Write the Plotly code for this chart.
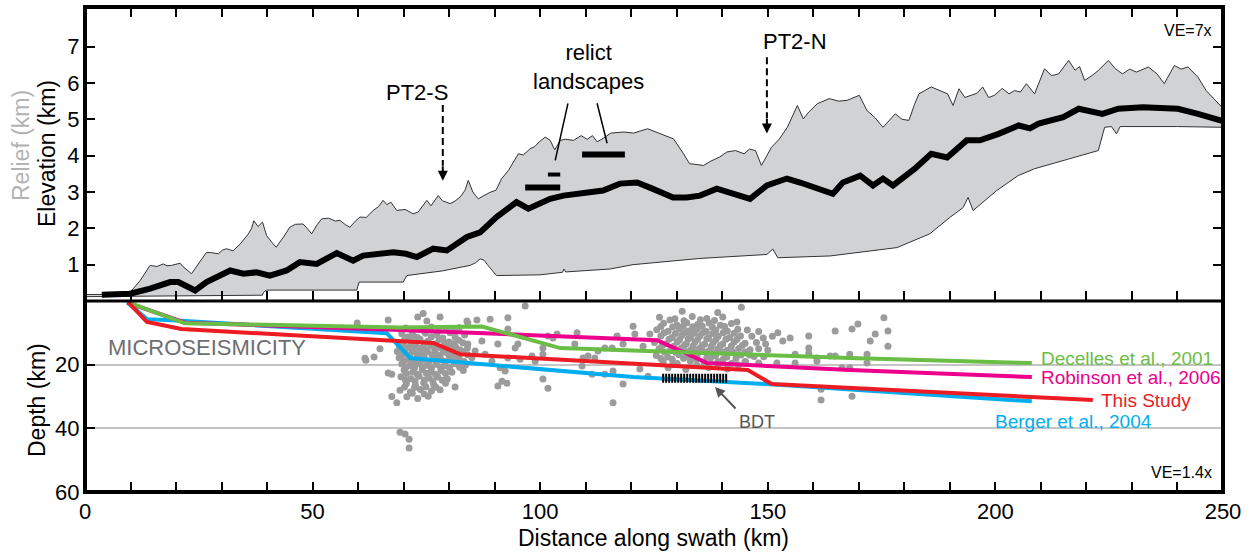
import plotly.graph_objects as go

FONT = "Liberation Sans, Arial, sans-serif"

# ---------------- DATA ----------------
# Top panel: swath profile (distance km, elevation km) - maximum elevation
max_km = [0, 9.5, 9.9, 12.1, 14.3, 15.8, 17.2, 18.0, 19.0, 20.9, 21.5, 22.4, 23.4, 24.9, 26.0, 26.7, 27.8, 29.3,
          30.2, 31.1, 32.5, 34.1, 35.9, 36.6, 37.1, 38.0, 39.0, 39.9, 41.0, 42.0, 43.6, 45.0, 46.2, 47.9, 48.8,
          49.8, 51.0, 52.0, 53.5, 55.0, 56.0, 57.2, 58.2, 59.4, 60.4, 61.8, 63.3, 64.5, 65.5, 66.3, 67.2, 68.5,
          70.3, 72.1, 73.2, 75.1, 76.0, 77.6, 78.5, 80.2, 81.3, 82.4, 83.5, 84.2, 85.2, 86.4, 87.6, 89.0, 90.3,
          91.5, 93.0, 94.0, 95.2, 96.3, 97.8, 98.8, 99.8, 101.1, 102.2, 103.2, 104.4, 105.5, 107.3, 109.0,
          110.3, 111.5, 112.5, 113.9, 115.5, 118.4, 120.5, 123.6, 126.3, 129.3, 131.5, 132.8, 135.9, 137.5,
          139.4, 141.0, 142.9, 144.8, 146.0, 147.3, 148.6, 150.8, 152.5, 154.3, 156.5, 157.8, 159.0, 160.9,
          163.5, 165.5, 167.4, 170.1, 171.8, 173.5, 175.3, 176.5, 178.0, 179.5, 181.0, 182.2, 183.2, 185.9,
          187.8, 189.5, 190.7, 192.0, 193.3, 194.6, 196.0, 197.2, 198.5, 199.8, 201.5, 203.0, 204.2, 205.5,
          206.8, 208.6, 210.8, 212.3, 213.9, 216.1, 217.5, 218.5, 219.6, 221.2, 222.6, 224.8, 226.3, 227.9,
          229.5, 231.0, 233.6, 235.5, 237.1, 239.3, 240.8, 242.3, 244.5, 246.3, 248.9, 250]
max_elev = [0.18, 0.18, 0.24, 0.56, 0.98, 0.95, 1.02, 0.97, 0.98, 1.04, 0.95, 0.85, 0.75, 1.02, 1.20, 1.34, 1.33, 1.30,
            1.40, 1.44, 1.38, 1.57, 1.85, 2.0, 2.21, 2.05, 2.17, 1.80, 1.62, 1.48, 1.76, 2.03, 2.11, 2.12, 2.00,
            1.85, 2.10, 2.26, 2.28, 2.20, 2.22, 2.10, 2.03, 2.20, 2.31, 2.30, 2.49, 2.60, 2.77, 2.65, 2.72, 2.49,
            2.52, 2.40, 2.45, 2.77, 2.62, 2.90, 2.76, 2.68, 2.75, 2.86, 3.05, 3.32, 3.0, 2.81, 2.90, 2.99, 3.05,
            3.36, 3.59, 3.80, 4.05, 4.02, 4.19, 4.25, 4.38, 4.51, 4.42, 4.16, 4.42, 4.45, 4.42, 4.55,
            4.45, 4.55, 4.38, 4.48, 4.62, 4.65, 4.62, 4.74, 4.60, 4.46, 4.05, 3.78, 3.73, 3.85,
            3.96, 4.10, 4.14, 4.05, 4.18, 4.14, 3.73, 4.23, 4.45, 4.78, 5.38, 5.01, 5.20, 5.43,
            5.57, 5.50, 5.52, 5.66, 5.24, 5.05, 4.78, 4.95, 5.15, 5.00, 4.97, 5.40, 5.70, 5.89,
            5.80, 5.70, 5.38, 5.84, 5.60, 5.66, 5.72, 5.89, 5.60, 5.66, 5.85, 5.70, 5.79, 5.75,
            5.98, 5.70, 6.39, 6.20, 6.25, 6.62, 6.35, 6.45, 6.07, 6.20, 6.34, 6.62, 6.40, 6.25,
            6.38, 6.30, 6.44, 6.25, 5.98, 6.48, 6.38, 6.44, 6.16, 5.79, 5.43, 5.30]

# minimum elevation
min_km = [0, 10, 39.0, 39.2, 39.9, 59.7, 60.2, 69.9, 70.7, 78.6, 84.6, 85.8, 86.8, 87.7, 88.4, 90.4, 100, 104.9,
          105.2, 105.6, 115.3, 120.4, 135, 149.8, 151.1, 152.2, 163.7, 178.4, 185.6, 190, 192.9, 194, 195.1,
          200.3, 205, 208.6, 214.9, 218.3, 222.6, 224, 225.5, 226.6, 227.4, 240, 250]
min_elev = [0.12, 0.13, 0.16, 0.24, 0.30, 0.30, 0.52, 0.52, 0.70, 0.83, 0.98, 1.05, 1.16, 1.12, 1.0, 0.70, 0.72, 0.79,
            0.88, 0.80, 0.88, 1.00, 1.17, 1.28, 1.43, 1.19, 1.24, 1.47, 1.85, 2.3, 2.57, 2.85, 2.49,
            3.04, 3.45, 3.64, 3.87, 4.0, 4.14, 4.78, 4.80, 4.60, 4.80, 4.80, 4.78]

# mean elevation
mean_km = [3.7, 9.9, 14.3, 18.7, 20.5, 22.3, 24.2, 26.7, 29.0, 31.9, 34.8, 37.7, 40.6, 44.3, 47.2, 50.9, 55.3,
           58.9, 61.1, 64.5, 67.7, 70.5, 72.9, 76.5, 79.5, 83.9, 86.8, 90.4, 94.8, 97.4, 102.2, 105.1, 109.4,
           113.8, 117.5, 121.3, 124.1, 129.2, 132.2, 135.1, 138.8, 142.4, 146.1, 149.8, 154.2, 157.1, 160.8,
           164.3, 166.5, 170.3, 173.1, 175.3, 177.5, 182.3, 185.9, 189.4, 193.7, 196.6, 200.7, 205.1, 207.6,
           209.5, 214.9, 218.3, 223.5, 227.0, 232.4, 240.1, 244.5, 248.9, 250]
mean_elev = [0.17, 0.2, 0.34, 0.52, 0.52, 0.42, 0.29, 0.52, 0.68, 0.84, 0.75, 0.79, 0.70, 0.84, 1.07, 1.02, 1.32,
             1.11, 1.25, 1.30, 1.34, 1.30, 1.21, 1.44, 1.39, 1.76, 1.89, 2.31, 2.72, 2.54, 2.81, 2.9, 2.98,
             3.04, 3.23, 3.26, 3.12, 2.85, 2.85, 2.9, 3.09, 2.95, 2.81, 3.18, 3.37, 3.26, 3.12,
             2.95, 3.26, 3.45, 3.18, 3.37, 3.18, 3.64, 4.05, 3.95, 4.42, 4.42, 4.6, 4.83, 4.75,
             4.88, 5.06, 5.29, 5.15, 5.29, 5.33, 5.29, 5.15, 4.97, 4.95]

# relict landscape surfaces: start km, end km, elevation km
relict_start = [96.7, 101.7, 109.2]
relict_end = [104.4, 104.4, 118.6]
relict_elev = [3.12, 3.48, 4.03]

# Bottom panel: decollement geometries (distance km, depth km)
decelles_km = [9.6, 22, 69.2, 87.2, 104.4, 168, 208]
decelles_depth = [0.5, 7.0, 8.3, 8.0, 14.8, 17.9, 19.5]
robinson_km = [9.3, 22, 69.2, 125.7, 136.7, 168, 208]
robinson_depth = [0.5, 6.8, 9.1, 12.3, 19.5, 21.7, 23.9]
thisstudy_km = [9.6, 13.6, 21.2, 76.5, 82.4, 145.6, 150.9, 221.4]
thisstudy_depth = [0.5, 6.6, 8.8, 13.2, 16.7, 21.7, 26.1, 31.1]
berger_km = [9.3, 13.6, 22, 66.3, 71.4, 120.4, 149.8, 208]
berger_depth = [0.5, 5.7, 6.3, 10.1, 17.9, 23.9, 26.1, 31.5]

# brittle-ductile transition
bdt_km = [126.8, 141.3]
bdt_depth = [24.3, 24.3]

# microseismicity (distance km, depth km)
quakes = [
    (59.8, 6.9), (66.6, 6.0), (73.1, 5.0), (74.3, 3.9), (75.1, 6.3), (78.0, 5.0), (83.9, 6.3), (64.8, 15.0),
    (61.5, 18.0), (61.7, 18.6), (63.5, 17.6), (66.6, 22.6), (67.4, 23.0), (67.4, 30.0), (68.5, 32.0),
    (69.2, 41.2), (70.3, 41.8), (71.2, 43.4), (71.2, 46.2), (81.3, 27.0),
    (96.7, 1.6), (92.9, 5.3), (89.0, 5.7), (86.1, 6.0), (84.1, 6.9), (92.9, 8.8), (84.1, 13.5), (85.7, 15.7),
    (87.2, 12.6), (87.9, 16.7), (89.4, 18.9), (90.7, 13.5), (91.2, 21.0), (92.3, 22.0), (94.5, 14.8),
    (95.1, 13.5), (92.9, 17.9), (95.6, 18.3), (98.2, 17.3), (100.6, 14.8), (100.6, 16.7), (98.9, 18.9),
    (91.6, 25.2), (92.7, 25.8), (90.7, 26.7), (100.6, 24.5), (101.7, 27.4),
    (101.7, 11.0), (102.8, 11.6), (103.7, 10.4), (108.1, 10.0), (107.6, 13.5), (109.4, 17.9), (110.5, 17.3),
    (109.2, 20.4), (112.0, 17.9), (111.4, 23.0), (112.7, 15.7),
    (116.9, 11.0), (114.2, 14.8), (115.8, 14.8), (118.2, 13.5), (120.4, 7.9), (120.8, 10.4), (124.1, 10.4),
    (122.6, 14.2), (116.0, 22.0), (114.2, 23.0), (118.2, 26.1), (121.9, 21.4), (123.7, 23.6), (116.0, 32.0),
    (144.2, 2.0), (143.2, 6.6),
    (152.2, 10.0), (153.3, 12.6), (154.9, 11.6), (152.0, 19.5), (156.0, 16.7), (156.0, 19.5), (159.0, 11.0),
    (159.0, 14.8), (159.0, 16.4), (160.8, 17.9), (160.8, 18.9), (164.8, 9.4), (164.8, 17.3), (163.7, 17.3),
    (168.0, 16.7), (168.5, 8.8), (169.8, 7.2), (171.8, 16.7), (171.8, 19.5), (172.5, 12.6), (173.6, 10.4),
    (175.5, 5.3), (176.4, 9.4), (176.4, 14.2), (166.3, 21.0), (168.0, 21.0), (161.7, 27.7), (168.5, 29.9),
    (161.7, 31.1),
    # dense cluster near 70-85 km
    (70.5, 8.5), (73.2, 8.9), (76.1, 8.2), (79.4, 8.8), (82.2, 8.4),
    (69.6, 10.3), (72.1, 10.8), (74.8, 10.1), (77.3, 10.6), (80.2, 10.0), (83.4, 10.7),
    (70.2, 12.2), (71.7, 12.8), (73.6, 12.0), (75.4, 12.6), (77.8, 12.1), (80.0, 12.9), (82.1, 12.3),
    (69.1, 14.1), (71.0, 14.6), (72.6, 13.9), (74.2, 14.5), (76.0, 14.0), (78.1, 14.7), (79.6, 14.2),
    (81.4, 14.4), (84.0, 14.8),
    (68.6, 15.9), (70.4, 16.4), (72.0, 15.7), (73.7, 16.3), (75.2, 15.8), (77.0, 16.5), (79.1, 16.0),
    (81.0, 16.6), (83.0, 15.9),
    (69.0, 17.8), (71.1, 18.3), (73.0, 17.6), (74.6, 18.2), (76.6, 17.9), (78.3, 18.5), (80.1, 17.7),
    (82.2, 18.1), (85.0, 17.8),
    (69.6, 19.8), (71.4, 20.3), (73.2, 19.6), (75.1, 20.2), (77.1, 19.9), (79.0, 20.4), (81.2, 19.7), (83.6, 20.1),
    (70.1, 21.7), (72.0, 22.3), (74.1, 21.6), (76.0, 22.2), (78.2, 21.9), (80.6, 22.4), (83.1, 21.8),
    (69.4, 23.8), (71.6, 24.4), (73.4, 23.6), (75.6, 24.2), (77.5, 23.9), (79.6, 24.5),
    (70.6, 25.9), (72.6, 26.5), (74.4, 25.7), (76.6, 26.2), (79.2, 25.8),
    (69.2, 28.0), (71.5, 28.6), (73.7, 27.8), (76.1, 28.3), (78.0, 27.9),
    (70.7, 30.1), (73.1, 30.6), (75.4, 29.9),
    (71.8, 9.4), (74.6, 9.6), (77.8, 9.3), (80.9, 9.5),
    (70.9, 11.3), (73.0, 11.5), (76.1, 11.2), (78.6, 11.6), (81.3, 11.3),
    (69.9, 13.2), (72.2, 13.4), (74.9, 13.1), (76.9, 13.5), (79.0, 13.2), (81.0, 13.4), (83.0, 13.1),
    (70.0, 15.0), (71.8, 15.2), (73.4, 14.9), (75.0, 15.3), (76.8, 15.0), (78.6, 15.2), (80.4, 15.0), (82.4, 15.3),
    (69.6, 16.9), (71.3, 17.1), (72.9, 16.8), (74.5, 17.2), (76.2, 16.9), (78.0, 17.1), (79.9, 16.8),
    (81.8, 17.1), (84.1, 16.9),
    (70.1, 18.8), (72.2, 19.0), (73.9, 18.7), (75.6, 19.1), (77.4, 18.8), (79.2, 19.0), (81.1, 18.7), (83.3, 19.0),
    (70.5, 20.8), (72.4, 21.0), (74.1, 20.7), (76.1, 21.1), (78.1, 20.8), (80.1, 21.0), (82.3, 20.8),
    (70.6, 22.8), (73.0, 23.0), (75.0, 22.7), (77.0, 23.0), (79.2, 22.8),
    (70.4, 24.9), (72.5, 25.1), (74.6, 24.8), (76.4, 25.1), (78.5, 24.9),
    (70.2, 27.0), (72.4, 27.2), (74.9, 26.9), (77.1, 27.1),
    (71.9, 29.0), (74.5, 29.2),
    # dense cluster near 125-147 km
    (131.2, 3.2), (139.0, 3.6),
    (126.2, 5.1), (129.6, 5.6), (133.4, 4.9), (136.6, 5.5), (140.1, 5.0),
    (127.1, 7.0), (130.0, 7.5), (132.2, 6.8), (134.6, 7.4), (137.1, 6.9), (139.6, 7.6), (142.0, 7.1),
    (125.6, 9.0), (128.1, 9.5), (130.6, 8.8), (132.6, 9.4), (134.4, 8.9), (136.5, 9.6), (138.6, 9.1),
    (141.1, 9.4), (143.4, 8.9),
    (126.5, 11.0), (129.0, 11.5), (131.1, 10.8), (133.0, 11.4), (135.1, 10.9), (137.0, 11.6), (139.1, 11.1),
    (141.6, 11.5), (144.0, 11.0),
    (125.1, 13.0), (127.6, 13.5), (130.1, 12.8), (132.1, 13.4), (134.0, 12.9), (136.1, 13.6), (138.0, 13.1),
    (140.1, 13.5), (142.6, 12.9), (145.0, 13.3),
    (126.1, 15.0), (128.6, 15.5), (131.0, 14.8), (133.1, 15.4), (135.0, 14.9), (137.1, 15.6), (139.0, 15.1),
    (141.1, 15.5), (143.6, 14.9), (146.1, 15.3),
    (125.5, 17.1), (128.0, 17.6), (130.5, 16.9), (132.6, 17.5), (134.5, 17.0), (136.6, 17.7), (138.5, 17.2),
    (141.0, 17.6), (144.1, 17.0), (147.0, 17.4),
    (127.0, 19.1), (130.1, 19.6), (133.0, 18.9), (136.0, 19.5), (139.1, 19.0), (142.0, 19.6), (145.1, 19.2),
    (128.1, 21.0), (132.0, 21.5), (137.0, 20.9), (141.1, 21.4),
    (128.5, 6.0), (131.6, 6.2), (135.2, 5.9), (138.3, 6.1),
    (126.5, 8.0), (129.1, 8.2), (131.4, 7.9), (133.5, 8.1), (135.6, 7.9), (137.8, 8.2), (140.5, 8.0),
    (127.2, 10.0), (129.7, 10.2), (131.9, 9.9), (133.8, 10.1), (135.8, 9.9), (137.9, 10.2), (140.2, 10.0),
    (142.6, 10.1),
    (128.3, 12.0), (130.6, 12.2), (132.5, 11.9), (134.6, 12.1), (136.6, 11.9), (138.6, 12.2), (140.8, 12.0),
    (143.2, 12.1),
    (126.8, 14.0), (129.4, 14.2), (131.7, 13.9), (133.6, 14.1), (135.6, 13.9), (137.6, 14.2), (139.6, 14.0),
    (142.0, 14.1), (144.4, 14.0),
    (127.3, 16.0), (129.8, 16.2), (131.9, 15.9), (133.9, 16.1), (135.8, 15.9), (137.8, 16.2), (140.1, 16.0),
    (142.4, 16.1), (145.0, 16.0),
    (126.5, 18.1), (129.0, 18.3), (131.5, 18.0), (134.3, 18.2), (137.4, 18.0), (140.2, 18.3), (143.0, 18.1),
    (129.1, 20.0), (134.4, 20.2), (139.0, 19.9), (143.5, 20.1),
    (145.5, 9.1), (148.0, 9.6), (146.5, 11.1), (149.0, 11.6), (151.0, 11.1), (147.5, 13.0), (149.5, 13.5),
    (148.0, 15.0), (150.0, 15.5), (146.0, 17.0), (149.1, 17.5), (145.0, 19.0), (148.0, 19.5),
]
quake_km = [q[0] for q in quakes]
quake_depth = [q[1] for q in quakes]

x_ticks = list(range(0, 251, 10))
x_ticklabels = [str(v) if v % 50 == 0 else "" for v in x_ticks]
elev_ticks = [1, 2, 3, 4, 5, 6, 7]
depth_ticks = [20, 40, 60]

# ---------------- LAYOUT GEOMETRY ----------------
W, H = 1250, 555
ML, MR, MT, MB = 85, 27, 7, 63
PW = W - ML - MR
PH = H - MT - MB
SPLIT = (H - MB - 301) / PH


def pxx(px):
    return (px - ML) / PW


def pxy(py):
    return (H - MB - py) / PH


fig = go.Figure()

# ---- top panel ----
fig.add_trace(go.Scatter(x=max_km + min_km[::-1], y=max_elev + min_elev[::-1], fill="toself",
                         fillcolor="#d1d2d4", line=dict(width=0), mode="lines",
                         xaxis="x2", yaxis="y2", hoverinfo="skip", showlegend=False))
fig.add_trace(go.Scatter(x=max_km, y=max_elev, mode="lines", line=dict(color="#333333", width=1),
                         xaxis="x2", yaxis="y2", showlegend=False))
fig.add_trace(go.Scatter(x=min_km, y=min_elev, mode="lines", line=dict(color="#333333", width=1),
                         xaxis="x2", yaxis="y2", showlegend=False))
fig.add_trace(go.Scatter(x=mean_km, y=mean_elev, mode="lines", line=dict(color="black", width=6),
                         xaxis="x2", yaxis="y2", showlegend=False))
for s, e, v in zip(relict_start, relict_end, relict_elev):
    fig.add_trace(go.Scatter(x=[s, e], y=[v, v], mode="lines",
                             line=dict(color="black", width=6 if e - s > 4 else 4),
                             xaxis="x2", yaxis="y2", showlegend=False))

# ---- bottom panel ----
fig.add_trace(go.Scatter(x=quake_km, y=quake_depth, mode="markers",
                         marker=dict(color="#9b9b9b", size=7), xaxis="x", yaxis="y", showlegend=False))
fig.add_trace(go.Scatter(x=berger_km, y=berger_depth, mode="lines", line=dict(color="#00aeef", width=4),
                         showlegend=False))
fig.add_trace(go.Scatter(x=robinson_km, y=robinson_depth, mode="lines", line=dict(color="#ec008c", width=4),
                         showlegend=False))
fig.add_trace(go.Scatter(x=decelles_km, y=decelles_depth, mode="lines", line=dict(color="#6abd45", width=4),
                         showlegend=False))
fig.add_trace(go.Scatter(x=thisstudy_km, y=thisstudy_depth, mode="lines", line=dict(color="#ed1c24", width=4),
                         showlegend=False))
fig.add_trace(go.Scatter(x=bdt_km, y=bdt_depth, mode="lines",
                         line=dict(color="black", width=9, dash="2px,1px"), showlegend=False))

tickfont = dict(family=FONT, size=22, color="black")
common = dict(ticks="inside", ticklen=10, tickwidth=1.5, tickcolor="black", showline=True,
              linecolor="black", linewidth=1, zeroline=False, automargin=False)
fig.update_layout(
    width=W, height=H, margin=dict(l=ML, r=MR, t=MT, b=MB, autoexpand=False),
    paper_bgcolor="white", plot_bgcolor="white",
    font=dict(family=FONT, color="black"),
    xaxis=dict(domain=[0, 1], range=[0, 250], anchor="y", tickvals=x_ticks, ticktext=x_ticklabels,
               mirror=True, showgrid=False, tickfont=tickfont, **common),
    xaxis2=dict(domain=[0, 1], range=[0, 250], anchor="y2", matches="x", tickvals=x_ticks,
                showticklabels=False, mirror="allticks", showgrid=False, **common),
    yaxis=dict(domain=[0, SPLIT], range=[60, 0], anchor="x", tickvals=depth_ticks, mirror=True,
               showgrid=True, gridcolor="#c4c4c4", gridwidth=1.5, tickfont=tickfont, **common),
    yaxis2=dict(domain=[SPLIT, 1], range=[0, 8.09], anchor="x2", tickvals=elev_ticks, mirror="allticks",
                showgrid=False, tickfont=tickfont, **common),
)

shapes = [
    dict(type="rect", xref="paper", yref="paper", x0=0, x1=1, y0=0, y1=1,
         line=dict(color="black", width=4), layer="above"),
    dict(type="line", xref="paper", yref="paper", x0=0, x1=1, y0=SPLIT, y1=SPLIT,
         line=dict(color="black", width=3), layer="above"),
    # dashed arrow shafts
    dict(type="line", xref="x2", yref="y2", x0=78.6, x1=78.6, y0=5.39, y1=3.72,
         line=dict(color="black", width=2, dash="7px,4px")),
    dict(type="line", xref="x2", yref="y2", x0=149.8, x1=149.8, y0=6.71, y1=5.02,
         line=dict(color="black", width=2, dash="7px,4px")),
    # relict landscapes leader lines
    dict(type="line", xref="x2", yref="y2", x0=106.1, x1=103.3, y0=5.44, y1=3.87,
         line=dict(color="black", width=1.5)),
    dict(type="line", xref="x2", yref="y2", x0=112.5, x1=114.7, y0=5.44, y1=4.34,
         line=dict(color="black", width=1.5)),
]
fig.update_layout(shapes=shapes)

ann = []


def text(x, y, t, size=22, color="black", xanchor="center", xref="paper", yref="paper", angle=0):
    ann.append(dict(x=x, y=y, xref=xref, yref=yref, text=t, showarrow=False, xanchor=xanchor,
                    yanchor="middle", textangle=angle, font=dict(family=FONT, size=size, color=color)))


# axis titles
text(pxx(21), pxy(146), "Relief (km)", size=23, color="#b3b3b3", angle=-90)
text(pxx(47), pxy(154), "Elevation (km)", size=23, angle=-90)
text(pxx(37), pxy(400), "Depth (km)", size=23, angle=-90)
text(pxx(653), pxy(538), "Distance along swath (km)", size=23)

# top panel annotations
text(72.9, 5.75, "PT2-S", xref="x2", yref="y2")
text(156.0, 7.13, "PT2-N", xref="x2", yref="y2")
text(110.5, 6.44, "relict<br>landscapes", xref="x2", yref="y2")
text(pxx(1214), pxy(30), "VE=7x", size=16, xanchor="right")
for xx, yy in [(78.6, 3.31), (149.8, 4.61)]:
    ann.append(dict(x=xx, y=yy, xref="x2", yref="y2", ax=0, ay=-16, text="", showarrow=True,
                    arrowhead=2, arrowsize=1, arrowwidth=2, arrowcolor="black"))

# bottom panel annotations
text(4.6, 14.5, "MICROSEISMICITY", size=22, color="#6d6e70", xanchor="left", xref="x", yref="y")
text(209.6, 18.2, "Decelles et al., 2001", size=19, color="#6abd45", xanchor="left", xref="x", yref="y")
text(209.6, 23.9, "Robinson et al., 2006", size=19, color="#ec008c", xanchor="left", xref="x", yref="y")
text(222.8, 31.1, "This Study", size=19, color="#ed1c24", xanchor="left", xref="x", yref="y")
text(199.5, 38.0, "Berger et al., 2004", size=19, color="#00aeef", xanchor="left", xref="x", yref="y")
text(147.6, 38.0, "BDT", size=18, color="#555555", xref="x", yref="y")
ann.append(dict(x=138.4, y=27.0, xref="x", yref="y", ax=22, ay=23, text="", showarrow=True,
                arrowhead=2, arrowsize=1, arrowwidth=2, arrowcolor="#555555"))
text(pxx(1214), pxy(472), "VE=1.4x", size=16, xanchor="right")

fig.update_layout(annotations=ann)
fig.write_html("out.html", config={"displayModeBar": False},
               post_script="document.body.style.margin='0';document.body.style.overflow='hidden';")
